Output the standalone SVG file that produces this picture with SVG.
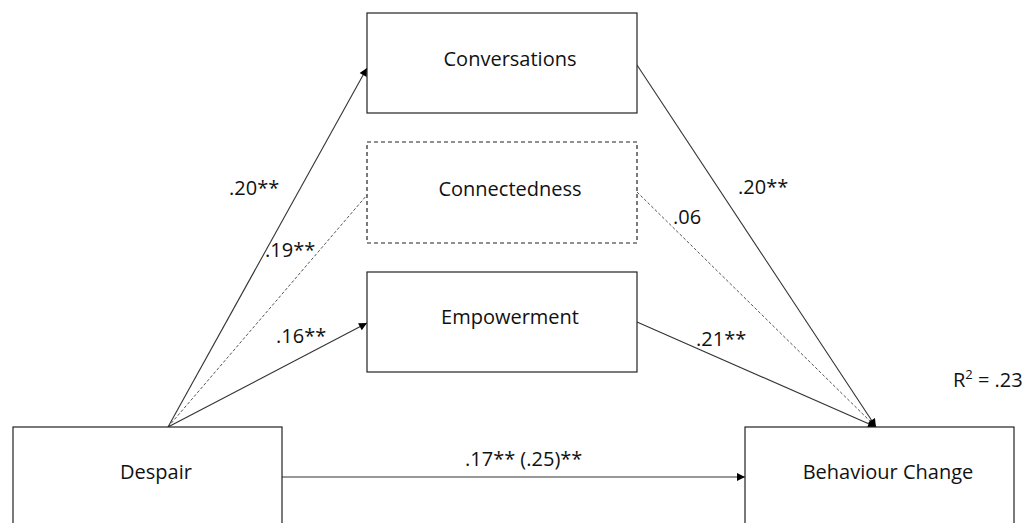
<svg xmlns="http://www.w3.org/2000/svg" width="1030" height="523" viewBox="0 0 1030 523">
<defs>
<marker id="arr" viewBox="0 0 10 10" refX="10" refY="5" markerWidth="9" markerHeight="8" markerUnits="userSpaceOnUse" orient="auto">
<path d="M0,0 L10,5 L0,10 z" fill="#000"/>
</marker>
</defs>
<style>
.box{fill:#fff;stroke:#222;stroke-width:1.2}
.dbox{fill:#fff;stroke:#222;stroke-width:1.2;stroke-dasharray:4 3}
.lbl{font-family:"Open Sans","Noto Sans",sans-serif;font-size:20px;fill:#111}
.node{font-family:"Open Sans","Noto Sans",sans-serif;font-size:20px;fill:#111;text-anchor:middle}
.ln{stroke:#333;stroke-width:1.1;fill:none}
.dl{stroke:#555;stroke-width:1;fill:none;stroke-dasharray:3 2}
</style>
<rect width="1030" height="523" fill="#fff"/>
<g id="connectors">
<line class="ln" x1="168" y1="427" x2="367" y2="68" marker-end="url(#arr)"/>
<line class="dl" x1="168" y1="427" x2="367" y2="195"/>
<line class="ln" x1="168" y1="427" x2="367" y2="323" marker-end="url(#arr)"/>
<line class="ln" x1="637" y1="65" x2="876" y2="427" marker-end="url(#arr)"/>
<line class="dl" x1="637" y1="192" x2="876" y2="427"/>
<line class="ln" x1="637" y1="322" x2="876" y2="427" marker-end="url(#arr)"/>
<line class="ln" x1="282" y1="477" x2="745" y2="477" marker-end="url(#arr)"/>
</g>
<g id="node-conversations">
<rect class="box" x="367" y="13" width="270" height="100"/>
<text class="node" x="510" y="66">Conversations</text>
</g>
<g id="node-connectedness">
<rect class="dbox" x="367" y="142" width="270" height="101"/>
<text class="node" x="510" y="196">Connectedness</text>
</g>
<g id="node-empowerment">
<rect class="box" x="367" y="272" width="270" height="100"/>
<text class="node" x="510" y="324">Empowerment</text>
</g>
<g id="node-despair">
<rect class="box" x="13" y="427" width="269" height="110"/>
<text class="node" x="156" y="479">Despair</text>
</g>
<g id="node-behaviour-change">
<rect class="box" x="745" y="427" width="269" height="110"/>
<text class="node" x="888" y="479">Behaviour Change</text>
</g>
<g id="labels">
<text class="lbl" x="229" y="195">.20**</text>
<text class="lbl" x="265" y="257">.19**</text>
<text class="lbl" x="276" y="343">.16**</text>
<text class="lbl" x="738" y="194">.20**</text>
<text class="lbl" x="673" y="224">.06</text>
<text class="lbl" x="696" y="346">.21**</text>
<text class="lbl" x="465" y="466">.17** (.25)**</text>
<text class="lbl" x="953" y="387">R<tspan font-size="13" dy="-8">2</tspan><tspan dy="8"> = .23</tspan></text>
</g>
</svg>
